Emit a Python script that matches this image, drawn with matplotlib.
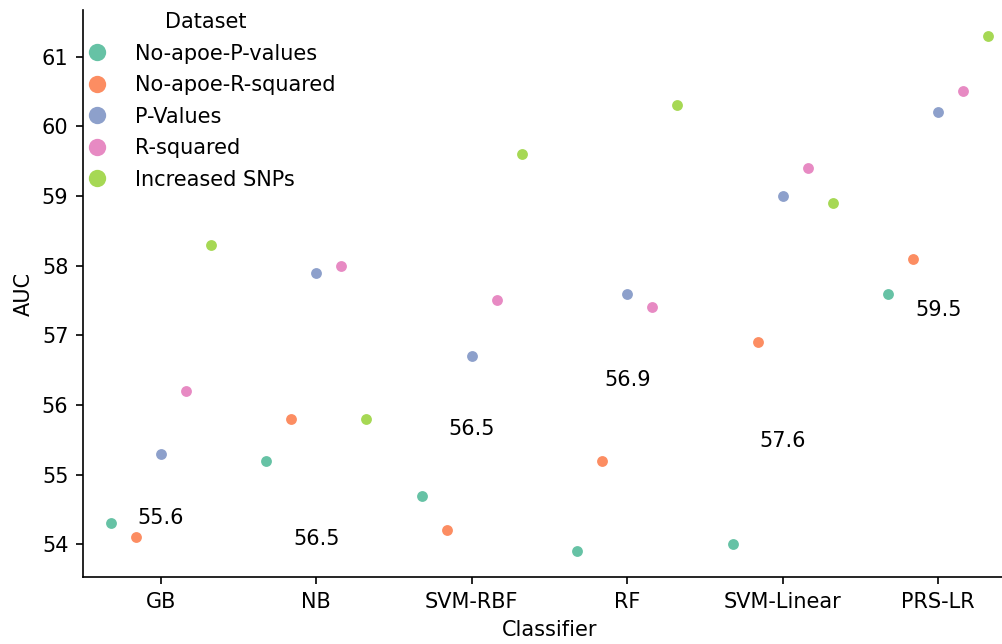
import matplotlib
matplotlib.use("Agg")
import matplotlib.pyplot as plt
import seaborn as sns
import pandas as pd

classifiers = ["GB", "NB", "SVM-RBF", "RF", "SVM-Linear", "PRS-LR"]
datasets = ["No-apoe-P-values", "No-apoe-R-squared", "P-Values", "R-squared", "Increased SNPs"]

# AUC per dataset, one value per classifier
no_apoe_p = [54.3, 55.2, 54.7, 53.9, 54.0, 57.6]
no_apoe_r = [54.1, 55.8, 54.2, 55.2, 56.9, 58.1]
p_values = [55.3, 57.9, 56.7, 57.6, 59.0, 60.2]
r_squared = [56.2, 58.0, 57.5, 57.4, 59.4, 60.5]
increased = [58.3, 55.8, 59.6, 60.3, 58.9, 61.3]

# where the mean labels sit (y, data units)
label_y = [54.38, 54.07, 55.66, 56.36, 55.48, 57.37]

rows = []
for name, vals in zip(datasets, [no_apoe_p, no_apoe_r, p_values, r_squared, increased]):
    for c, v in zip(classifiers, vals):
        rows.append({"Classifier": c, "Dataset": name, "AUC": v})
df = pd.DataFrame(rows)

plt.rcParams["font.family"] = ["DejaVu Sans"]

W, H = 1002, 644
fig = plt.figure(figsize=(W / 150, H / 150), dpi=150)
ax = fig.add_axes([83 / W, 1 - 577 / H, (1016 - 83) / W, (577 - 10) / H])

sns.stripplot(data=df, x="Classifier", y="AUC", hue="Dataset", order=classifiers,
              hue_order=datasets, palette="Set2", dodge=True, jitter=False,
              size=5.2, ax=ax)

means = df.groupby("Classifier")["AUC"].mean()
for i, c in enumerate(classifiers):
    ax.text(i, label_y[i], f"{means[c]:.1f}", ha="center", va="center")

sns.despine(ax=ax)
ax.set_xlabel("Classifier")
ax.set_ylabel("AUC")

ax.legend(title="Dataset", loc="upper left", frameon=False, markerscale=1.6,
          labelspacing=0.55, bbox_to_anchor=(-0.027, 1.029))

fig.savefig("out.png", dpi=150)
